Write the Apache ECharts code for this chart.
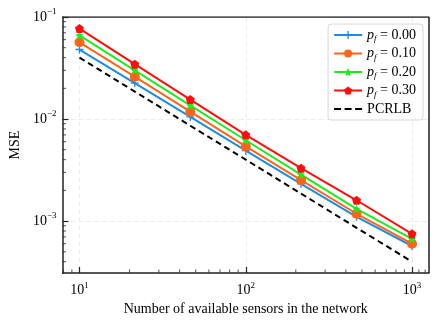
<!DOCTYPE html>
<html>
<head>
<meta charset="UTF-8">
<title>MSE vs sensors</title>
<script src="https://cdn.jsdelivr.net/npm/echarts@6/dist/echarts.min.js"></script>
<style>
  html, body { margin: 0; padding: 0; background: #ffffff; }
  #container { width: 440px; height: 326px; }
</style>
</head>
<body>
<div id="container"></div>
<script type="text/javascript">

// number of available sensors (x values)
var sensors = [10, 21.5, 46.4, 100, 215, 464, 1000];

// MSE for each failure probability
var mse000 = [0.048, 0.0225, 0.0105, 0.0049, 0.00232, 0.00110, 0.00057];
var mse010 = [0.0565, 0.026, 0.0118, 0.0054, 0.00252, 0.00118, 0.00060];
var mse020 = [0.066, 0.0300, 0.0136, 0.0062, 0.00285, 0.00132, 0.00067];
var mse030 = [0.077, 0.0345, 0.0155, 0.0070, 0.0033, 0.0016, 0.00075];
var pcrlb  = [0.040, 0.0186, 0.0086, 0.0040, 0.00186, 0.00086, 0.00040];

var seriesNames = ['0.00', '0.10', '0.20', '0.30'];

// axis ranges and minor tick positions
var xRange = [7.9, 1265];
var yRange = [0.00031, 0.1];
var xMinor = [8, 9, 20, 30, 40, 50, 60, 70, 80, 90, 200, 300, 400, 500, 600, 700, 800, 900, 1100, 1200];
var yMinor = [0.0004, 0.0005, 0.0006, 0.0007, 0.0008, 0.0009,
              0.002, 0.003, 0.004, 0.005, 0.006, 0.007, 0.008, 0.009,
              0.02, 0.03, 0.04, 0.05, 0.06, 0.07, 0.08, 0.09];

var serif = "'Liberation Serif', 'DejaVu Serif', serif";

var plusPath = 'path://M-1,-6 L1,-6 L1,-1 L6,-1 L6,1 L1,1 L1,6 L-1,6 L-1,1 L-6,1 L-6,-1 L-1,-1 Z';
var pentPath = 'path://M0,-10 L9.5,-3.1 L5.9,8.1 L-5.9,8.1 L-9.5,-3.1 Z';
var starPath = 'path://M0,-10 L2.9,-4 L9.5,-3.1 L4.7,1.5 L5.9,8.1 L0,5 L-5.9,8.1 L-4.7,1.5 L-9.5,-3.1 L-2.9,-4 Z';
// dashed legend icon, tiny corner specks keep the 28x10 box
var dashIcon = 'path://M0,4 L7,4 L7,6 L0,6 Z M10.5,4 L17.5,4 L17.5,6 L10.5,6 Z M21,4 L28,4 L28,6 L21,6 Z ' +
               'M0,0 L0.01,0 L0,0.01 Z M28,10 L27.99,10 L28,9.99 Z';

function pairs(ys) {
  var out = [];
  for (var i = 0; i < sensors.length; i++) out.push([sensors[i], ys[i]]);
  return out;
}

function powLabel(value) {
  var e = Math.round(Math.log(value) / Math.LN10);
  var s = e < 0 ? '\u2212' + (-e) : '' + e;
  return '{b|10}{sup|' + s + '}';
}

var labelRich = {
  b: { fontFamily: serif, fontSize: 14, color: '#000' },
  sup: { fontFamily: serif, fontSize: 9, color: '#000', verticalAlign: 'bottom', padding: [0, 0, 10, 0] }
};

function mkLine(name, data, color, symbol, size) {
  return {
    name: name,
    type: 'line',
    data: pairs(data),
    symbol: symbol,
    symbolSize: size,
    showAllSymbol: true,
    lineStyle: { color: color, width: 2 },
    itemStyle: { color: color, borderWidth: 0 },
    z: 3
  };
}

var minorXData = xMinor.map(function (v) { return [v, yRange[0]]; });
var minorYData = yMinor.map(function (v) { return [xRange[0], v]; });

var dom = document.getElementById('container');
var myChart = echarts.init(dom, null, { renderer: 'canvas' });

var option = {
  animation: false,
  textStyle: { fontFamily: serif },
  grid: { left: 62, right: 11, top: 17, bottom: 53, containLabel: false, show: false },
  legend: {
    right: 17, top: 24,
    orient: 'vertical',
    itemWidth: 28, itemHeight: 10, itemGap: 3,
    backgroundColor: 'rgba(255,255,255,0.85)',
    borderColor: '#d8d8d8', borderWidth: 1, borderRadius: 3,
    padding: [4, 7, 4, 5],
    textStyle: { fontFamily: serif, fontSize: 14, color: '#000',
      rich: {
        i: { fontFamily: serif, fontStyle: 'italic', fontSize: 14 },
        s: { fontFamily: serif, fontStyle: 'italic', fontSize: 9, verticalAlign: 'top', padding: [8, 0, 0, 0] },
        n: { fontFamily: serif, fontSize: 14 }
      }
    },
    formatter: function (name) {
      if (name === 'PCRLB') return '{n|PCRLB}';
      return '{i|p}{s|f}{n| = ' + name + '}';
    },
    data: ['0.00', '0.10', '0.20', '0.30', { name: 'PCRLB', icon: dashIcon, itemStyle: { color: '#000', borderWidth: 0 } }]
  },
  xAxis: {
    type: 'log',
    logBase: 10,
    min: xRange[0],
    max: xRange[1],
    name: 'Number of available sensors in the network',
    nameLocation: 'middle',
    nameGap: 28,
    nameTextStyle: { fontFamily: serif, fontSize: 14, color: '#000' },
    axisLine: { show: true, onZero: false, lineStyle: { color: '#222', width: 1.5 } },
    axisTick: { show: true, inside: true, length: 6, lineStyle: { color: '#222', width: 1.2 } },
    minorTick: { show: false },
    axisLabel: { formatter: powLabel, rich: labelRich, margin: 8, showMinLabel: false, showMaxLabel: false },
    splitLine: { show: true, lineStyle: { color: '#e6eef0', type: [5, 3], width: 1 } }
  },
  yAxis: {
    type: 'log',
    logBase: 10,
    min: yRange[0],
    max: yRange[1],
    name: 'MSE',
    nameLocation: 'middle',
    nameGap: 40,
    nameTextStyle: { fontFamily: serif, fontSize: 14, color: '#000' },
    axisLine: { show: true, onZero: false, lineStyle: { color: '#222', width: 1.5 } },
    axisTick: { show: true, inside: true, length: 6, lineStyle: { color: '#222', width: 1.2 } },
    minorTick: { show: false },
    axisLabel: { formatter: powLabel, rich: labelRich, margin: 6, showMinLabel: false },
    splitLine: { show: true, lineStyle: { color: '#e6eef0', type: [5, 3], width: 1 } }
  },
  series: [
    mkLine(seriesNames[0], mse000, '#1c8de2', plusPath, 8),
    mkLine(seriesNames[1], mse010, '#ff6418', 'circle', 10),
    mkLine(seriesNames[2], mse020, '#1bec1b', starPath, 8),
    mkLine(seriesNames[3], mse030, '#ff0d0d', pentPath, 9),
    {
      name: 'PCRLB',
      type: 'line',
      data: pairs(pcrlb),
      symbol: 'none',
      lineStyle: { color: '#000', width: 2, type: [6, 4] },
      itemStyle: { color: '#000' },
      z: 3
    },
    {
      // frame on top and right
      type: 'line',
      data: [[xRange[0], yRange[1]], [xRange[1], yRange[1]], [xRange[1], yRange[0]]],
      symbol: 'none',
      silent: true,
      lineStyle: { color: '#222', width: 1.5 },
      z: 4
    },
    {
      // minor ticks on bottom axis
      type: 'scatter',
      data: minorXData,
      symbol: 'rect',
      symbolSize: [1, 3],
      symbolOffset: [0, -2],
      clip: false,
      silent: true,
      itemStyle: { color: '#222' },
      z: 4
    },
    {
      // minor ticks on left axis
      type: 'scatter',
      data: minorYData,
      symbol: 'rect',
      symbolSize: [3, 1],
      symbolOffset: [2, 0],
      clip: false,
      silent: true,
      itemStyle: { color: '#222' },
      z: 4
    }
  ]
};

myChart.setOption(option, true);

window.onresize = function () {
  myChart.resize();
};
</script>
</body>
</html>
